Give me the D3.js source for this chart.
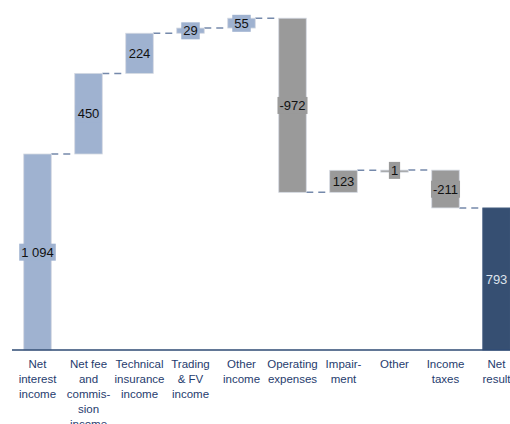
<!DOCTYPE html>
<html>
<head>
<meta charset="utf-8">
<script src="https://cdn.jsdelivr.net/npm/d3@7"></script>
<style>
  body { margin: 0; background: #fff; }
  svg { display: block; font-family: "Liberation Sans", Arial, sans-serif; }
</style>
</head>
<body>
<svg id="chart" width="510" height="424"></svg>
<script>
// data
const categories = ["Net interest income", "Net fee and commission income", "Technical insurance income",
  "Trading & FV income", "Other income", "Operating expenses", "Impairment", "Other", "Income taxes", "Net result"];
const tickLines = [
  ["Net", "interest", "income"],
  ["Net fee", "and", "commis-", "sion", "income"],
  ["Technical", "insurance", "income"],
  ["Trading", "& FV", "income"],
  ["Other", "income"],
  ["Operating", "expenses"],
  ["Impair-", "ment"],
  ["Other"],
  ["Income", "taxes"],
  ["Net", "result"]
];
const values = [1094, 450, 224, 29, 55, -972, 123, 1, -211, 793];
const valueLabels = ["1 094", "450", "224", "29", "55", "-972", "123", "1", "-211", "793"];
const kinds = ["inc", "inc", "inc", "inc", "inc", "exp", "exp", "exp", "exp", "total"];

const colors = { inc: "#9fb2d0", exp: "#9a9a9a", total: "#364f72" };
const textColors = { inc: "#111", exp: "#111", total: "#dde3ec" };

function loader() {
  const svg = d3.select("#chart");

  // running totals
  let run = 0;
  const steps = values.map((v, i) => {
    let start, end;
    if (kinds[i] === "total") { start = 0; end = v; }
    else { start = run; end = run + v; }
    run = end;
    return { cat: categories[i], start: start, end: end, kind: kinds[i], label: valueLabels[i], idx: i };
  });

  const x = d3.scaleBand().domain(categories).range([12, 522]).paddingInner(0.46).paddingOuter(0.23);
  const y = d3.scaleLinear().domain([0, 1094]).range([350, 154]);

  // connectors
  const conn = steps.slice(0, -1).map((s, i) => ({ x1: x(s.cat) + x.bandwidth(), x2: x(steps[i + 1].cat), v: s.end }));
  svg.selectAll(".conn").data(conn).enter().append("line")
    .attr("class", "conn")
    .attr("x1", d => d.x1).attr("x2", d => d.x2)
    .attr("y1", d => y(d.v)).attr("y2", d => y(d.v))
    .attr("stroke", "#7589ab").attr("stroke-width", 1.5)
    .attr("stroke-dasharray", "7,5");

  // bars
  svg.selectAll(".bar").data(steps).enter().append("rect")
    .attr("class", "bar")
    .attr("x", d => x(d.cat))
    .attr("width", x.bandwidth())
    .attr("y", d => y(Math.max(d.start, d.end)))
    .attr("height", d => Math.max(2, Math.abs(y(d.start) - y(d.end))))
    .attr("fill", d => colors[d.kind])
    .attr("stroke", d => d.kind === "total" ? "#4a6285" : "#d4d9e2")
    .attr("stroke-width", 0.8);

  // value labels with boxes
  const lab = svg.selectAll(".lab").data(steps).enter().append("g")
    .attr("class", "lab")
    .attr("transform", d => `translate(${x(d.cat) + x.bandwidth() / 2},${(y(d.start) + y(d.end)) / 2})`);
  lab.append("text")
    .attr("text-anchor", "middle")
    .attr("dy", "0.36em")
    .attr("font-size", 13)
    .attr("fill", d => textColors[d.kind])
    .text(d => d.label);
  lab.each(function (d) {
    const g = d3.select(this);
    const bb = g.select("text").node().getBBox();
    g.insert("rect", "text")
      .attr("x", bb.x - 2).attr("y", bb.y - 1)
      .attr("width", bb.width + 4).attr("height", bb.height + 2)
      .attr("fill", colors[d.kind]);
  });

  // axis
  svg.append("line")
    .attr("x1", 12).attr("x2", 510).attr("y1", 350).attr("y2", 350)
    .attr("stroke", "#2e4a73").attr("stroke-width", 1.5);

  const ticks = svg.selectAll(".tick").data(categories).enter().append("text")
    .attr("class", "tick")
    .attr("x", d => x(d) + x.bandwidth() / 2)
    .attr("y", 368)
    .attr("text-anchor", "middle")
    .attr("font-size", 11.5)
    .attr("fill", "#1f3c6e");
  ticks.selectAll("tspan").data((d, i) => tickLines[i]).enter().append("tspan")
    .attr("x", function () { return d3.select(this.parentNode).attr("x"); })
    .attr("dy", (d, i) => i === 0 ? 0 : 15)
    .text(d => d);
}
window.addEventListener("load", loader);
</script>
</body>
</html>
